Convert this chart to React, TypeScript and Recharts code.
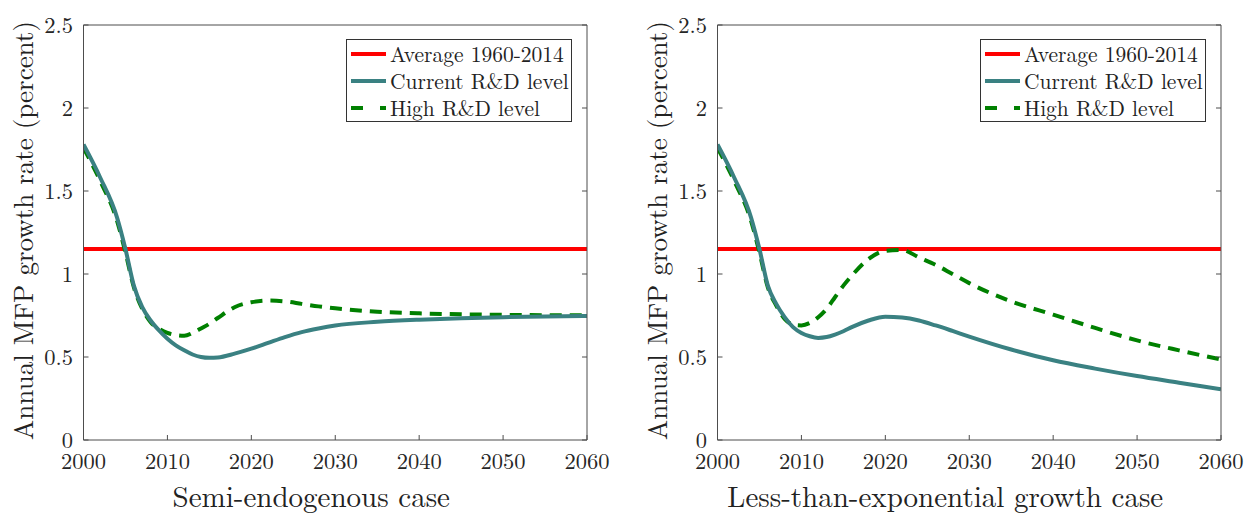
import { LineChart, Line, XAxis, YAxis, ReferenceLine, Legend } from 'recharts';

// years sampled along the curves (shared by both panels)
const years = [
  2000, 2002, 2004, 2005, 2006, 2007, 2008, 2009, 2010, 2011, 2012, 2013, 2014, 2015,
  2016, 2018, 2020, 2022, 2024, 2026, 2028, 2030, 2035, 2040, 2045, 2050, 2055, 2060,
];

const semiCurrent = [
  1.78, 1.58, 1.34, 1.15, 0.93, 0.8, 0.72, 0.66, 0.61, 0.57, 0.54, 0.515, 0.5, 0.495,
  0.497, 0.52, 0.55, 0.585, 0.62, 0.65, 0.672, 0.69, 0.712, 0.725, 0.734, 0.74, 0.744, 0.747,
];
const semiHigh = [
  1.76, 1.56, 1.32, 1.13, 0.92, 0.79, 0.71, 0.67, 0.645, 0.632, 0.628, 0.645, 0.672, 0.7,
  0.735, 0.8, 0.83, 0.84, 0.835, 0.82, 0.805, 0.793, 0.773, 0.763, 0.757, 0.754, 0.752, 0.752,
];

const lteCurrent = [
  1.78, 1.58, 1.34, 1.15, 0.93, 0.82, 0.74, 0.68, 0.645, 0.625, 0.615, 0.62, 0.635, 0.655,
  0.68, 0.72, 0.743, 0.738, 0.72, 0.69, 0.657, 0.623, 0.545, 0.48, 0.43, 0.385, 0.345, 0.305,
];
const lteHigh = [
  1.76, 1.56, 1.32, 1.13, 0.92, 0.81, 0.73, 0.695, 0.69, 0.705, 0.74, 0.79, 0.86, 0.93,
  0.99, 1.09, 1.14, 1.145, 1.1, 1.055, 1.0, 0.945, 0.835, 0.755, 0.675, 0.6, 0.54, 0.485,
];

const average = 1.15;

const xTicks = [2000, 2010, 2020, 2030, 2040, 2050, 2060];
const yTicks = [0, 0.5, 1, 1.5, 2, 2.5];
const seriesNames = ['Average 1960-2014', 'Current R&D level', 'High R&D level'];
const panelTitles = ['Semi-endogenous case', 'Less-than-exponential growth case'];
const yLabel = 'Annual MFP growth rate (percent)';

const RED = '#ff0000';
const TEAL = '#3a8182';
const GREEN = '#008000';
const AXIS = '#4d4d4d';
const FONT = 'Latin Modern Roman';

const toRows = (vals: number[]) => years.map((year, i) => ({ year, value: vals[i] }));

const LegendBox = () => {
  const samples = [
    { color: RED, dash: undefined },
    { color: TEAL, dash: undefined },
    { color: GREEN, dash: '12 17' },
  ];
  return (
    <div
      style={{
        boxSizing: 'border-box',
        width: 226,
        height: 83,
        border: '1px solid #333',
        background: '#fff',
        paddingLeft: 4,
        fontFamily: FONT,
        fontSize: 21.5,
        lineHeight: '27px',
        color: '#222',
      }}
    >
      {seriesNames.map((name, i) => (
        <div key={name} style={{ display: 'flex', alignItems: 'center', height: 27 }}>
          <svg width={35} height={6} style={{ marginRight: 4, flex: 'none' }}>
            <line x1={0} y1={3} x2={35} y2={3} stroke={samples[i].color} strokeWidth={4} strokeDasharray={samples[i].dash} />
          </svg>
          <span style={{ whiteSpace: 'nowrap' }}>{name}</span>
        </div>
      ))}
    </div>
  );
};

const YTitle = (props: any) => {
  const { viewBox } = props;
  const cx = viewBox.x + 9;
  const cy = viewBox.y + viewBox.height / 2 - 2;
  return (
    <text x={cx} y={cy} transform={`rotate(-90, ${cx}, ${cy})`} textAnchor="middle" fontFamily={FONT} fontSize={27} fill="#222">
      {yLabel}
    </text>
  );
};

const XTitle = (props: any) => {
  const { viewBox, value } = props;
  const cx = viewBox.x + viewBox.width / 2 - 24;
  return (
    <text x={cx} y={506.5} textAnchor="middle" fontFamily={FONT} fontSize={29} fill="#222">
      {value}
    </text>
  );
};

const tickStyle = { fontFamily: FONT, fontSize: 22.5, fill: '#262626' };

const Panel = ({ title, current, high }: { title: string; current: number[]; high: number[] }) => (
  <LineChart width={610} height={514} margin={{ top: 24, right: 22, bottom: 34, left: 23.5 }}>
    <XAxis
      xAxisId="b"
      dataKey="year"
      type="number"
      domain={[2000, 2060]}
      ticks={xTicks}
      allowDataOverflow
      height={40}
      tickSize={-5}
      tickMargin={18}
      stroke={AXIS}
      tick={tickStyle}
      label={{ value: title, content: (p: any) => <XTitle {...p} value={title} /> }}
    />
    <XAxis
      xAxisId="t"
      orientation="top"
      type="number"
      domain={[2000, 2060]}
      ticks={xTicks}
      allowDataOverflow
      height={1}
      tickSize={-5}
      stroke={AXIS}
      tickFormatter={() => ''}
    />
    <YAxis
      yAxisId="l"
      type="number"
      domain={[0, 2.5]}
      ticks={yTicks}
      allowDataOverflow
      width={60}
      tickSize={-5}
      tickMargin={15.5}
      stroke={AXIS}
      tick={tickStyle}
      label={{ content: (p: any) => <YTitle {...p} /> }}
    />
    <YAxis
      yAxisId="r"
      orientation="right"
      type="number"
      domain={[0, 2.5]}
      ticks={yTicks}
      allowDataOverflow
      width={1}
      tickSize={-5}
      stroke={AXIS}
      tickFormatter={() => ''}
    />
    <ReferenceLine xAxisId="b" yAxisId="l" y={average} stroke={RED} strokeWidth={4} />
    <Line
      xAxisId="b"
      yAxisId="l"
      data={toRows(high)}
      dataKey="value"
      type="monotone"
      stroke={GREEN}
      strokeWidth={4}
      strokeDasharray="12 8"
      dot={false}
      activeDot={false}
      isAnimationActive={false}
    />
    <Line
      xAxisId="b"
      yAxisId="l"
      data={toRows(current)}
      dataKey="value"
      type="monotone"
      stroke={TEAL}
      strokeWidth={4}
      dot={false}
      activeDot={false}
      isAnimationActive={false}
    />
    <Legend
      layout="vertical"
      align="center"
      verticalAlign="middle"
      content={() => <LegendBox />}
      wrapperStyle={{ top: 39, left: 346, width: 226, height: 83 }}
    />
  </LineChart>
);

export default function App() {
  return (
    <div style={{ position: 'absolute', left: 0, top: 0, width: 1247, height: 514, background: '#fff' }}>
      <div style={{ position: 'absolute', left: 0, top: 0 }}>
        <Panel title={panelTitles[0]} current={semiCurrent} high={semiHigh} />
      </div>
      <div style={{ position: 'absolute', left: 634, top: 0 }}>
        <Panel title={panelTitles[1]} current={lteCurrent} high={lteHigh} />
      </div>
    </div>
  );
}
